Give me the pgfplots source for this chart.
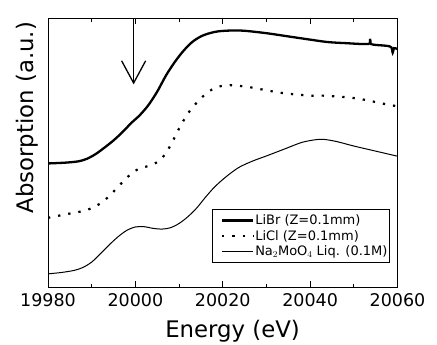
\documentclass[border=0pt]{standalone}
\usepackage{fontspec}
\setmainfont{DejaVu Sans}
\usepackage{pgfplots}
\pgfplotsset{compat=1.18}
\begin{document}
\begin{tikzpicture}
\useasboundingbox (0,0) rectangle (437bp,345bp);
\begin{axis}[
  at={(48bp,58bp)}, anchor=south west,
  scale only axis, width=349.5bp, height=268bp,
  xmin=19980, xmax=20060, ymin=-0.49, ymax=9.51,
  xtick={19980,20000,20020,20040,20060},
  scaled x ticks=false,
  minor x tick num=1,
  ytick=\empty, minor ytick={1,2,3,4,5,6,7,8,9},
  tick align=inside,
  major tick length=5.5bp, minor tick length=3bp,
  axis line style={line width=1bp},
  every tick/.style={line width=0.8bp, black},
  /pgf/number format/assume math mode=true,
  /pgf/number format/set thousands separator={},
  xticklabel style={font=\fontsize{17.5bp}{20bp}\selectfont, yshift=-3bp},
  xlabel={Energy (eV)},
  ylabel={Absorption (a.u.)},
  xlabel style={font=\fontsize{22.8bp}{26bp}\selectfont, at={(axis description cs:0.528,-0.190)}, anchor=base},
  ylabel style={font=\fontsize{22.8bp}{26bp}\selectfont, at={(axis description cs:-0.0429,0.632)}, anchor=base},
  legend cell align=left,
  legend style={at={(rel axis cs:0.468,0.291)}, anchor=north west, font=\fontsize{13bp}{15bp}\selectfont,
    draw=black, line width=0.8bp, inner xsep=1bp, inner ysep=4bp, row sep=1bp,
    nodes={inner xsep=1bp, inner ysep=1.5bp}},
  legend image code/.code={\path (0bp,0bp); \draw[#1] (8bp,0bp) -- (39bp,0bp);},
]
\addplot[black, line width=2.3bp, smooth, tension=0.5] coordinates {
(19980,4.12) (19984,4.15) (19987,4.20) (19989,4.30) (19991,4.48) (19993,4.72) (19995,4.98) (19997,5.28) (19999,5.62) (20001,5.92) (20003,6.30) (20005,6.80) (20007,7.40) (20009,7.90) (20011,8.32) (20013,8.65) (20015,8.86) (20017,8.98) (20019,9.05) (20022,9.08) (20025,9.07) (20030,8.98) (20035,8.86) (20040,8.74) (20044,8.65) (20048,8.61) (20053.4,8.58) (20053.7,8.77) (20054.0,8.57) (20057.5,8.51) (20058.6,8.45) (20058.9,8.25) (20059.2,8.42) (20060,8.39)
};
\addlegendentry{LiBr (Z=0.1mm)}
\addplot[black, line width=2.2bp, dash pattern=on 2.3bp off 8bp, smooth] coordinates {
(19980,2.09) (19984,2.22) (19987,2.31) (19989.5,2.42) (19992,2.63) (19994,2.90) (19996,3.24) (19998,3.58) (20000,3.85) (20002,3.98) (20004,4.08) (20006,4.30) (20008,4.78) (20010,5.42) (20012,5.98) (20014,6.38) (20016,6.70) (20018,6.92) (20020,7.02) (20022,7.04) (20024,7.01) (20026,6.97) (20028,6.91) (20031,6.82) (20034,6.74) (20037,6.69) (20040,6.65) (20043,6.65) (20046,6.62) (20049,6.58) (20052,6.51) (20055,6.41) (20058,6.31) (20060,6.25)
};
\addlegendentry{LiCl (Z=0.1mm)}
\addplot[black, line width=1bp, smooth] coordinates {
(19980,0.0) (19983,0.05) (19986,0.13) (19988,0.24) (19990,0.44) (19992,0.75) (19994,1.08) (19996,1.38) (19998,1.62) (20000,1.75) (20002,1.76) (20004,1.70) (20006,1.67) (20008,1.72) (20010,1.88) (20012,2.13) (20014,2.45) (20016,2.85) (20018,3.22) (20020,3.52) (20022,3.78) (20024,4.00) (20027,4.22) (20030,4.40) (20034,4.65) (20038,4.90) (20041,5.00) (20043,5.02) (20046,4.94) (20050,4.77) (20055,4.58) (20060,4.39)
};
\addlegendentry{Na$_2$MoO$_4$ Liq. (0.1M)}
\draw[line width=1.3bp] (axis cs:19999.6,9.51) -- (axis cs:19999.6,7.12);
\draw[line width=1.3bp] (axis cs:19996.85,7.95) -- (axis cs:19999.6,7.12) -- (axis cs:20002.35,7.95);
\end{axis}
\end{tikzpicture}
\end{document}
